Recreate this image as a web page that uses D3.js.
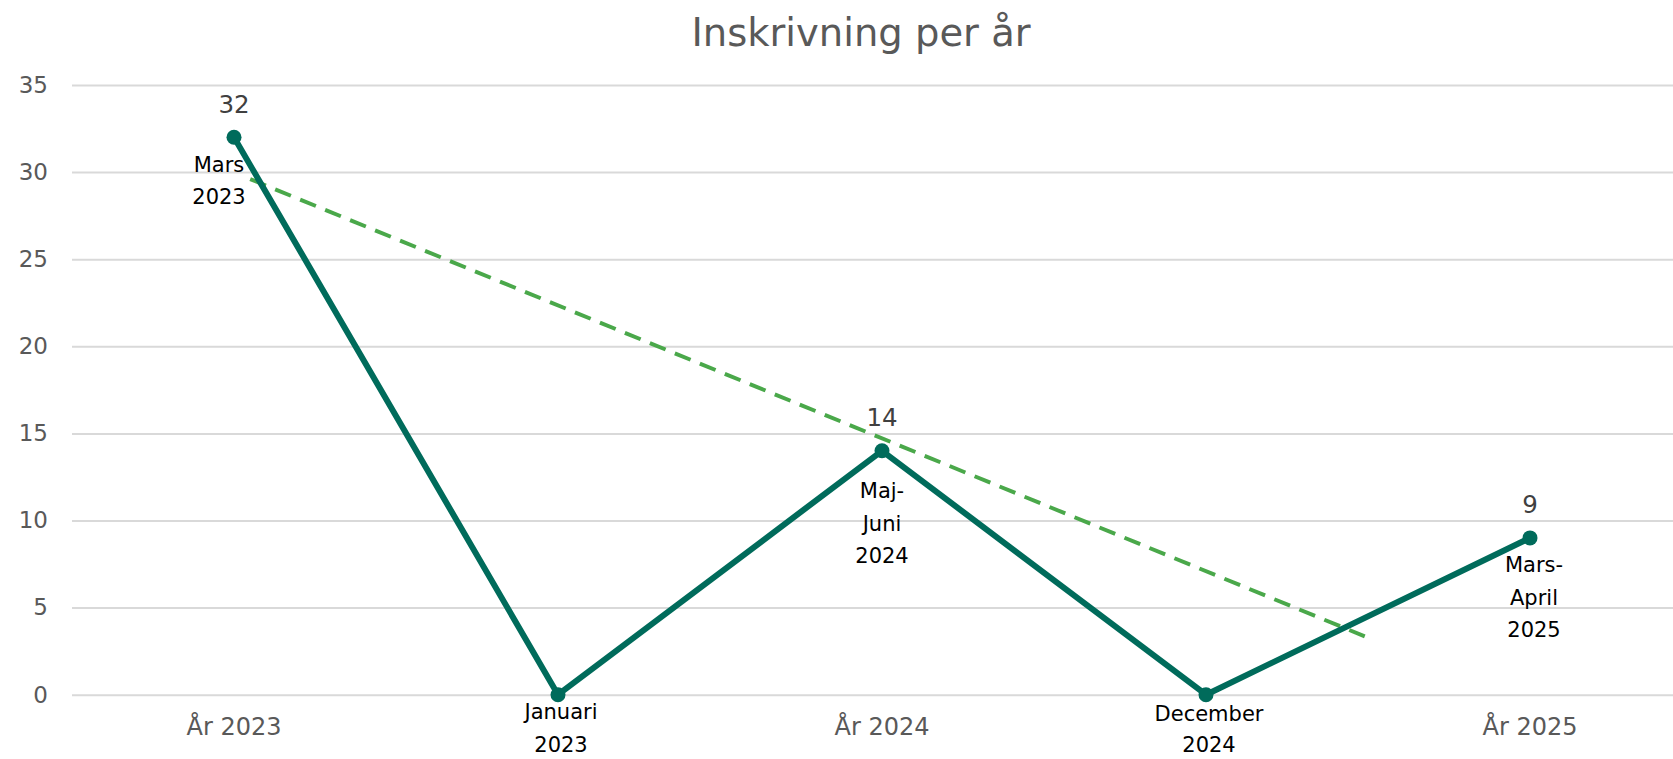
<!DOCTYPE html>
<html>
<head>
<meta charset="utf-8">
<script src="https://cdn.jsdelivr.net/npm/d3@7"></script>
<style>
  html, body { margin: 0; padding: 0; background: #ffffff; }
  svg { display: block; font-family: "DejaVu Sans", Verdana, sans-serif; }
</style>
</head>
<body>
<div id="chart"></div>
<script>
// chart data
const axisLabels = ["År 2023", "", "År 2024", "", "År 2025"];
const values = [32, 0, 14, 0, 9];
const pointLabels = [
  ["Mars", "2023"],
  ["Januari", "2023"],
  ["Maj-", "Juni", "2024"],
  ["December", "2024"],
  ["Mars-", "April", "2025"]
];
const yTicks = [0, 5, 10, 15, 20, 25, 30, 35];
// trend line end points (category index, value)
const trendIndex = [0.05, 3.49];
const trendValues = [29.6, 3.35];

// layout
const width = 1673, height = 759;
const plotLeft = 72, plotTop = 85, plotBottom = 694.7;
const catStep = 324;
// how far below each point its label starts (Excel placed them unevenly)
const labelDrop = [27, 17, 40, 19, 27];
const labelShift = [-15, 3, 0, 3, 4];
const lineGap = [32.5, 32.5, 32.5, 31, 32.5];

const svg = d3.select("#chart").append("svg")
  .attr("width", width)
  .attr("height", height);

const x = d3.scaleBand()
  .domain(d3.range(values.length))
  .range([plotLeft, plotLeft + catStep * values.length])
  .padding(0);

const y = d3.scaleLinear()
  .domain([0, 35])
  .range([plotBottom, plotTop]);

const cx = i => x(i) + x.bandwidth() / 2;
const xLin = d3.scaleLinear()
  .domain([0, values.length - 1])
  .range([cx(0), cx(values.length - 1)]);

// title
svg.append("text")
  .attr("x", 861)
  .attr("y", 46)
  .attr("text-anchor", "middle")
  .attr("fill", "#595959")
  .style("font-size", "38.5px")
  .text("Inskrivning per år");

// y axis with gridlines
const yAxis = svg.append("g")
  .attr("class", "yAxis")
  .attr("transform", "translate(" + plotLeft + ",0)")
  .call(d3.axisLeft(y).tickValues(yTicks).tickSize(-(width - plotLeft)).tickPadding(24));
yAxis.select(".domain").remove();
yAxis.selectAll(".tick line")
  .attr("stroke", "#d9d9d9")
  .attr("stroke-width", 2);
yAxis.selectAll(".tick text")
  .attr("fill", "#595959")
  .style("font-size", "23px")
  .style("font-family", "'DejaVu Sans', Verdana, sans-serif");

// x axis labels
const xAxis = svg.append("g")
  .attr("class", "xAxis")
  .attr("transform", "translate(0," + plotBottom + ")")
  .call(d3.axisBottom(x).tickSize(0).tickFormat(i => axisLabels[i]));
xAxis.select(".domain").remove();
xAxis.selectAll(".tick text")
  .attr("y", 32)
  .attr("dy", "0.35em")
  .attr("fill", "#595959")
  .style("font-size", "24px")
  .style("font-family", "'DejaVu Sans', Verdana, sans-serif");

// trend line
svg.append("path")
  .datum(trendIndex.map((t, i) => [t, trendValues[i]]))
  .attr("fill", "none")
  .attr("stroke", "#4aa84a")
  .attr("stroke-width", 4)
  .attr("stroke-dasharray", "17,10")
  .attr("d", d3.line().x(d => xLin(d[0])).y(d => y(d[1])));

// main line
svg.append("path")
  .datum(values)
  .attr("fill", "none")
  .attr("stroke", "#006b5b")
  .attr("stroke-width", 6)
  .attr("stroke-linejoin", "round")
  .attr("d", d3.line().x((d, i) => cx(i)).y(d => y(d)));

svg.selectAll("circle.pt")
  .data(values)
  .enter()
  .append("circle")
  .attr("class", "pt")
  .attr("cx", (d, i) => cx(i))
  .attr("cy", d => y(d))
  .attr("r", 7.5)
  .attr("fill", "#006b5b");

// value labels (only non-zero)
svg.selectAll("text.val")
  .data(values.map((v, i) => ({ v, i })).filter(d => d.v !== 0))
  .enter()
  .append("text")
  .attr("class", "val")
  .attr("x", d => cx(d.i))
  .attr("y", d => y(d.v) - 33)
  .attr("dy", "0.35em")
  .attr("text-anchor", "middle")
  .attr("fill", "#404040")
  .style("font-size", "24.5px")
  .text(d => d.v);

// period labels under the points
pointLabels.forEach((lines, i) => {
  const t = svg.append("text")
    .attr("text-anchor", "middle")
    .attr("fill", "#000000")
    .style("font-size", "21px");
  lines.forEach((s, k) => {
    t.append("tspan")
      .attr("x", cx(i) + labelShift[i])
      .attr("y", y(values[i]) + labelDrop[i] + k * lineGap[i])
      .attr("dy", "0.35em")
      .text(s);
  });
});
</script>
</body>
</html>
